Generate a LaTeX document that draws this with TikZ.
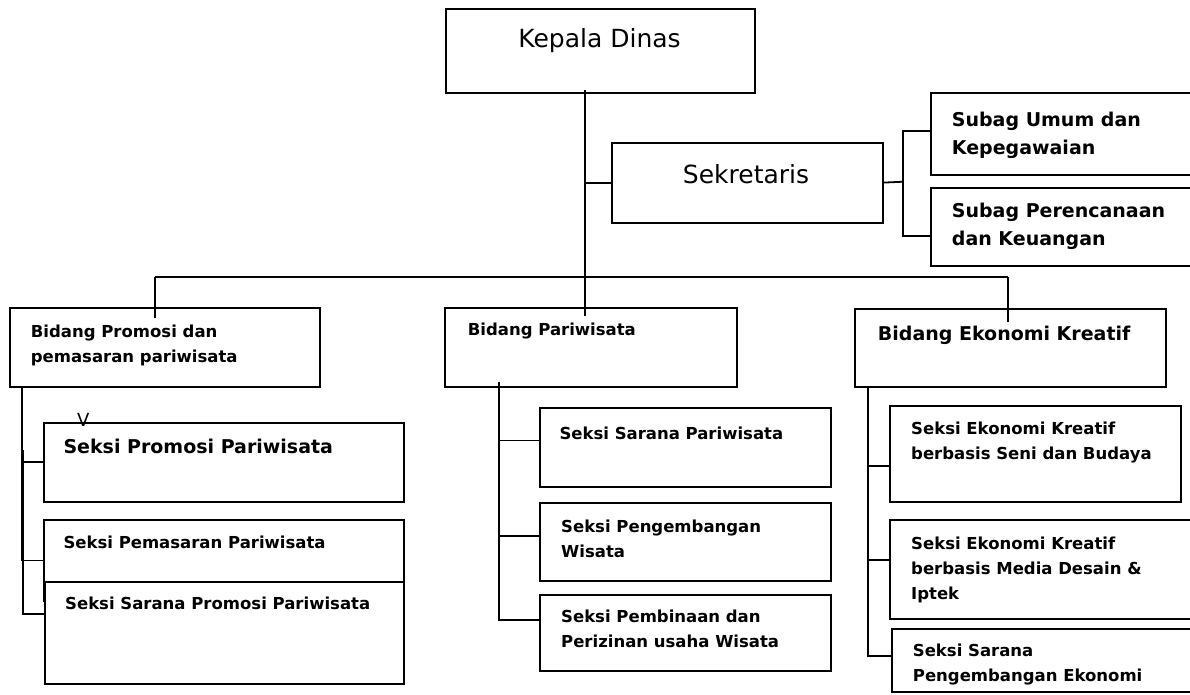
\documentclass[tikz,border=0pt]{standalone}
\usepackage{fontspec}
\setmainfont{DejaVu Sans}
\usetikzlibrary{calc}
\tikzset{
    %Define style for boxes
    kotak/.style={
           rectangle,
           draw=black, line width=1.8pt,
           fill=white,
           inner sep=0pt,
           anchor=north west},
    %Define style for texts
    judul/.style={
           inner sep=0pt,
           anchor=base,
           font=\fontsize{25}{30}\selectfont},
    teks/.style={
           inner sep=0pt,
           anchor=north west,
           align=left,
           font=\bfseries\fontsize{16.5}{25}\selectfont},
    teksbesar/.style={
           teks,
           font=\bfseries\fontsize{19}{28}\selectfont},
    % Define line style
    garis/.style={
           line width=1.8pt}
}
\begin{document}
\begin{tikzpicture}[x=1pt,y=-1pt]
\useasboundingbox (0,0) rectangle (1190,694);
\clip (0,0) rectangle (1190,694);

 %boxes
\node[kotak, minimum width=309.6pt, minimum height=83.4pt](kd) at (444.7,8.3){};
\node[kotak, minimum width=271pt, minimum height=80pt](sek) at (610.7,141.7){};
\node[kotak, minimum width=270pt, minimum height=82pt](sbu) at (930,92.3){};
\node[kotak, minimum width=270pt, minimum height=78.3pt](spk) at (930,186.7){};
\node[kotak, minimum width=310pt, minimum height=78.4pt](bpro) at (9,307.3){};
\node[kotak, minimum width=291.7pt, minimum height=78.4pt](bpar) at (444.3,307.3){};
\node[kotak, minimum width=311pt, minimum height=78pt](bek) at (854,307.7){};
\node[kotak, minimum width=360.6pt, minimum height=79pt](spp) at (42.7,421.7){};
\node[kotak, minimum width=360.6pt, minimum height=80.7pt](spm) at (42.7,519.3){};
\node[kotak, minimum width=358.7pt, minimum height=102.6pt](spr) at (44,580.7){};
\node[kotak, minimum width=291pt, minimum height=78.4pt](ssp) at (539,407.3){};
\node[kotak, minimum width=291pt, minimum height=77.7pt](spg) at (539,502.3){};
\node[kotak, minimum width=291pt, minimum height=76pt](spb) at (539,594){};
\node[kotak, minimum width=290.7pt, minimum height=95.7pt](seks) at (889.3,405){};
\node[kotak, minimum width=310.7pt, minimum height=99pt](sekm) at (889.3,519.3){};
\node[kotak, minimum width=309pt, minimum height=62.7pt](ssek) at (891,628.3){};

 %texts
\node[judul](kd-t) at (599.5,47.5){Kepala Dinas};
\node[judul](sek-t) at (746,183.3){Sekretaris};
\node[teksbesar](sbu-t) at (951.7,112.3){Subag Umum dan\\Kepegawaian};
\node[teksbesar](spk-t) at (951.7,203.3){Subag Perencanaan\\dan Keuangan};
\node[teks](bpro-t) at (30.7,325){Bidang Promosi dan\\pemasaran pariwisata};
\node[teks](bpar-t) at (467.7,322.3){Bidang Pariwisata};
\node[teksbesar](bek-t) at (877.7,326){Bidang Ekonomi Kreatif};
\node[teksbesar](spp-t) at (63.3,439){Seksi Promosi Pariwisata};
\node[teks](spm-t) at (63.3,535.7){Seksi Pemasaran Pariwisata};
\node[teks](spr-t) at (65,596.7){Seksi Sarana Promosi Pariwisata};
\node[teks](ssp-t) at (559.3,426.7){Seksi Sarana Pariwisata};
\node[teks](spg-t) at (561,519.3){Seksi Pengembangan\\Wisata};
\node[teks](spb-t) at (561,610){Seksi Pembinaan dan\\Perizinan usaha Wisata};
\node[teks](seks-t) at (911,421.7){Seksi Ekonomi Kreatif\\berbasis Seni dan Budaya};
\node[teks](sekm-t) at (911,536.7){Seksi Ekonomi Kreatif\\berbasis Media Desain \&\\Iptek};
\node[teks](ssek-t) at (912.7,643.3){Seksi Sarana\\Pengembangan Ekonomi};
\node[judul, font=\fontsize{18}{20}\selectfont](v-t) at (83.3,426.7){V};

 %junctions
\coordinate (trunk) at (585,277);
\coordinate (busL) at (155,277);
\coordinate (busR) at (1007.7,277);
\coordinate (jsek) at (903.3,181.7);
\coordinate (vpro) at (22,388);
\coordinate (vpar) at (499.3,381.7);
\coordinate (vek) at (868.3,388.3);

 %lines
\draw[garis] ($(trunk |- kd.south)+(0,-4)$) -- ($(trunk |- bpar.north)+(0,9)$);
\draw[garis] (busL) -- (busR);
\draw[garis] (trunk |- sek.west) -- (sek.west);
\draw[garis] (sek.east) -- (jsek);
\draw[garis] ($(sbu.west)+(0,-3)$) -| (jsek) |- ($(spk.west)+(0,9)$);
\draw[garis] (busL) -- ($(busL |- bpro.north)+(0,11)$);
\draw[garis] (busR) -- ($(busR |- bek.north)+(0,14)$);
\draw[garis] (vpro) |- (spp.west);
\draw[garis] (vpro) |- (spm.west);
\draw[garis] ($(vpro)+(1,62)$) |- ($(spr.west)+(0,-19)$);
\draw[garis] (vpar) |- ($(ssp.west)+(0,-7)$);
\draw[garis] (vpar) |- ($(spg.west)+(0,-6)$);
\draw[garis] (vpar) |- ($(spb.west)+(0,-12.7)$);
\draw[garis] (vek) |- ($(seks.west)+(0,12)$);
\draw[garis] (vek) |- ($(sekm.west)+(0,-9.5)$);
\draw[garis] (vek) |- ($(ssek.west)+(0,-4.7)$);

\end{tikzpicture}
\end{document}
